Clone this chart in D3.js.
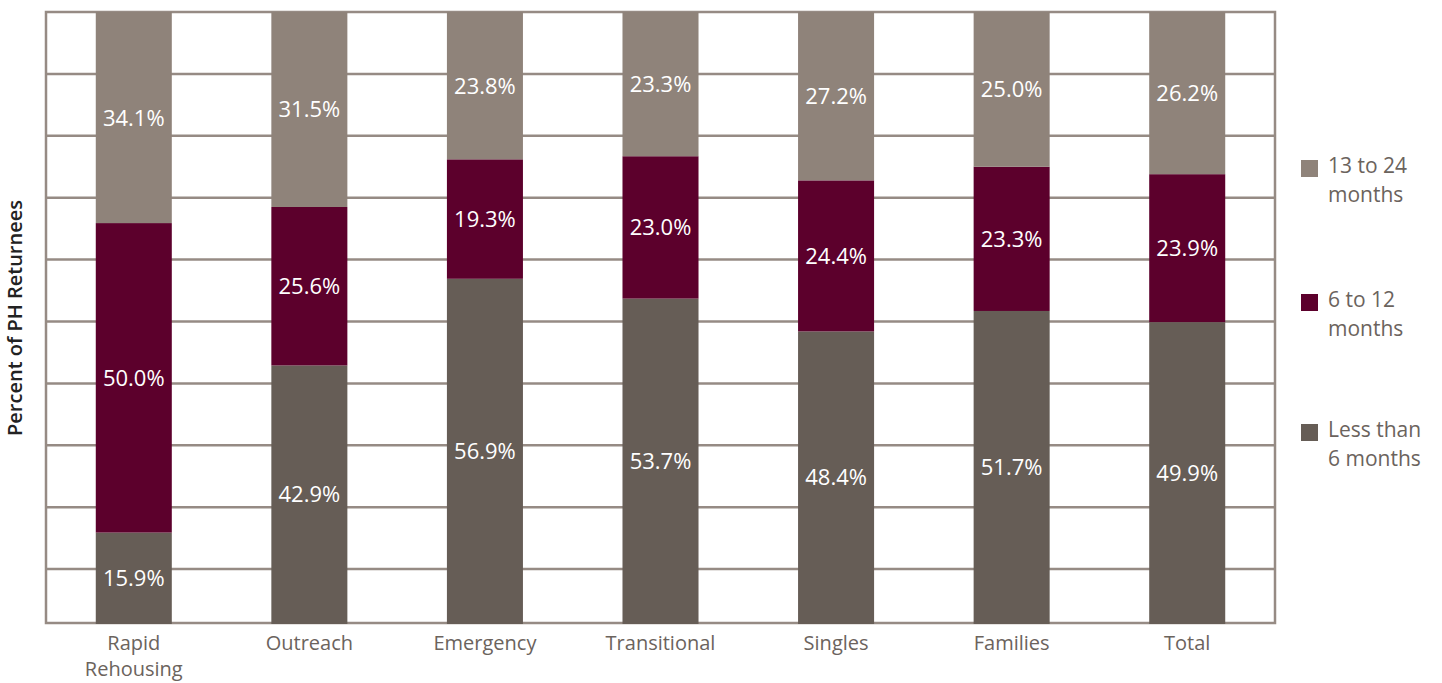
<!DOCTYPE html>
<html><head><meta charset="utf-8">
<script src="https://cdn.jsdelivr.net/npm/d3@7"></script>
<style>body{margin:0;background:#fff}svg{display:block}</style>
</head><body>
<script>
const categories = [["Rapid","Rehousing"],["Outreach"],["Emergency"],["Transitional"],["Singles"],["Families"],["Total"]];
const lessThan6 = [15.9, 42.9, 56.9, 53.7, 48.4, 51.7, 49.9];
const sixTo12   = [50.0, 25.6, 19.3, 23.0, 24.4, 23.3, 23.9];
const thirteenTo24 = [34.1, 31.5, 23.8, 23.3, 27.2, 25.0, 26.2];
const seriesNames = [["13 to 24","months"],["6 to 12","months"],["Less than","6 months"]];
const yTicks = [10,20,30,40,50,60,70,80,90];
const colors = {less:"#665d56", mid:"#5c002c", top:"#8f837a"};
const gridColor = "#968b84";
const textColor = "#6b635d";
const font = "'Open Sans', 'Liberation Sans', sans-serif";

(function(){
const W = 1442, H = 683;
const svg = d3.select("body").append("svg").attr("width", W).attr("height", H);
const pL = 46, pR = 1275, pT = 12, pB = 623;

const x = d3.scaleBand().domain(d3.range(categories.length)).range([pL, pR])
  .paddingInner(0.567).paddingOuter(0.2835);
const y = d3.scaleLinear().domain([0,100]).range([631, 12]);

svg.append("g").selectAll("line").data(yTicks).join("line")
  .attr("x1", pL).attr("x2", pR)
  .attr("y1", d => y(d)).attr("y2", d => y(d))
  .attr("stroke", gridColor).attr("stroke-width", 2.5);
svg.append("rect").attr("x", pL).attr("y", pT).attr("width", pR-pL).attr("height", pB-pT)
  .attr("fill", "none").attr("stroke", gridColor).attr("stroke-width", 2.5);

svg.append("defs").append("clipPath").attr("id","clip").append("rect")
  .attr("x", 0).attr("y", 0).attr("width", W).attr("height", pB + 1);

const rows = categories.map((c,i) => ({i, less: lessThan6[i], mid: sixTo12[i], top: thirteenTo24[i]}));
const stack = d3.stack().keys(["less","mid","top"])(rows);

const segTop = (key, d) => key === "top" ? y(100) : y(d[1]);
const segBot = (key, d) => key === "less" ? y(0) : y(d[0]);

const g = svg.append("g").attr("clip-path","url(#clip)");
stack.forEach(layer => {
  g.append("g").selectAll("rect").data(layer).join("rect")
    .attr("x", d => x(d.data.i)).attr("width", x.bandwidth())
    .attr("y", d => segTop(layer.key, d))
    .attr("height", d => segBot(layer.key, d) - segTop(layer.key, d))
    .attr("fill", colors[layer.key]);
});

stack.forEach(layer => {
  svg.append("g").selectAll("text").data(layer).join("text")
    .attr("x", d => x(d.data.i) + x.bandwidth()/2)
    .attr("y", d => {
      const y0 = Math.min(segBot(layer.key, d), pB);
      const y1 = segTop(layer.key, d);
      return (y0 + y1)/2 + 8;
    })
    .attr("text-anchor","middle").attr("fill","#fff")
    .attr("font-family", font).attr("font-size", 22)
    .text(d => (d[1]-d[0]).toFixed(1) + "%");
});

const xl = svg.append("g").selectAll("text").data(categories).join("text")
  .attr("x", (d,i) => x(i) + x.bandwidth()/2).attr("y", 650)
  .attr("text-anchor","middle").attr("fill", textColor)
  .attr("font-family", font).attr("font-size", 20);
xl.selectAll("tspan").data(d => d).join("tspan")
  .attr("x", function(){ return this.parentNode.getAttribute("x"); })
  .attr("dy", (d,j) => j === 0 ? 0 : 26).text(d => d);

svg.append("text").attr("transform", "translate(22,318) rotate(-90)")
  .attr("text-anchor","middle").attr("fill","#222")
  .attr("font-family", font).attr("font-size", 20).attr("font-weight", 600)
  .text("Percent of PH Returnees");

const legendKeys = ["top","mid","less"];
const legendY = [173, 307, 437];
const lg = svg.append("g").selectAll("g").data(legendKeys).join("g")
  .attr("transform", (d,i) => `translate(1301,${legendY[i]})`);
lg.append("rect").attr("x", 0).attr("y", -13).attr("width", 17).attr("height", 17)
  .attr("fill", d => colors[d]);
const lt = lg.append("text").attr("x", 27).attr("y", 0).attr("fill", textColor)
  .attr("font-family", font).attr("font-size", 21);
lt.selectAll("tspan").data((d,i) => seriesNames[i]).join("tspan")
  .attr("x", 27).attr("dy", (d,j) => j === 0 ? 0 : 29).text(d => d);
})();
</script>
</body></html>
